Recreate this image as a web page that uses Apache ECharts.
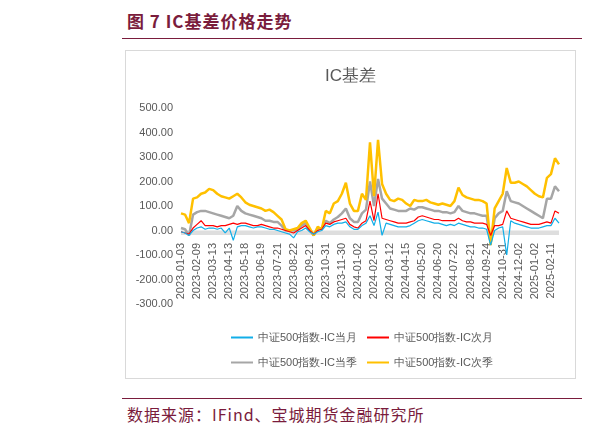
<!DOCTYPE html>
<html>
<head>
<meta charset="utf-8">
<script src="https://cdn.jsdelivr.net/npm/echarts@6/dist/echarts.min.js"></script>
<style>
body{margin:0;background:#fff;font-family:"Noto Sans CJK SC",sans-serif;}
#head{position:absolute;left:127px;top:8px;font-size:17px;font-weight:bold;color:#7a1c3c;letter-spacing:1px;}
#line1{position:absolute;left:122px;top:38px;width:460px;height:1px;background:#7a1c3c;}
#box{position:absolute;left:125px;top:50px;width:449px;height:327px;border:1px solid #d9d9d9;}
#line2{position:absolute;left:122px;top:398px;width:460px;height:1px;background:#7a1c3c;}
#foot{position:absolute;left:127px;top:402px;font-size:16px;color:#7a1c3c;letter-spacing:1px;}
</style>
</head>
<body>
<div id="head">图 7 IC基差价格走势</div>
<div id="line1"></div>
<div id="box"></div>
<div id="line2"></div>
<div id="foot">数据来源：IFind、宝城期货金融研究所</div>
<script>
// 坐标轴日期标签（每4个点一个）
var dateLabels = ['2023-01-03','2023-02-09','2023-03-13','2023-04-13','2023-05-18','2023-06-19',
	'2023-07-21','2023-08-22','2023-09-21','2023-10-31','2023-11-30','2024-01-02','2024-02-01',
	'2024-03-12','2024-04-15','2024-05-20','2024-06-20','2024-07-22','2024-08-21','2024-09-24',
	'2024-10-31','2024-12-02','2025-01-02','2025-02-11'];

var icMonth = [-5,-10,-20,0, 10,15,5,10, 10,5,10,-10, 10,-40,15,20, 20,15,10,15, 15,10,5,5,
	0,-5,-10,-15, -30,-5,0,10, -5,-15,-5,0, 20,15,25,30, 30,35,15,5, 5,20,30,60,
	20,75,-20,30, 25,20,15,15, 15,20,30,40, 45,40,35,30, 30,25,20,25, 20,30,25,20,
	15,15,10,10, 5,-60,0,10, 15,-100,40,30, 25,20,15,10, 10,10,15,20, 20,50,30];
var icNextMonth = [-5,-10,-15,10, 25,40,20,20, 20,15,20,20, 25,30,25,30, 30,25,20,20, 25,20,15,10,
	10,5,0,-5, -10,0,10,20, 0,-15,0,5, 30,25,35,40, 45,50,25,15, 10,30,40,120,
	40,150,50,45, 40,35,30,30, 30,35,40,55, 60,55,50,45, 45,40,40,40, 40,50,40,35,
	35,30,30,30, 25,-20,20,20, 25,80,50,45, 40,35,30,25, 25,25,30,35, 30,80,70];
var icQuarter = [10,5,-20,65, 75,80,80,75, 70,65,60,55, 50,60,100,80, 70,65,60,55, 50,40,40,35,
	35,20,0,0, 0,5,20,30, 0,-20,5,10, 40,30,45,55, 70,90,50,35, 35,70,85,200,
	100,210,130,110, 90,85,80,80, 80,90,85,95, 95,90,85,80, 80,75,75,70, 75,100,80,75,
	70,70,65,60, 60,-50,50,70, 80,160,120,115, 110,100,90,80, 70,60,50,130, 130,180,160];
var icNextQuarter = [70,65,30,130, 135,150,155,170, 165,150,140,135, 130,140,150,135, 115,105,100,95, 90,80,85,75,
	60,45,5,0, 5,10,30,40, 10,-20,15,5, 80,70,110,120, 150,195,110,80, 80,150,125,360,
	140,370,190,150, 125,120,130,125, 110,100,125,120, 120,125,115,110, 105,110,105,100, 120,175,145,135,
	130,125,125,120, 110,-60,90,120, 150,255,195,195, 200,190,180,165, 150,140,135,215, 230,295,270];

var categories = [];
for (var i = 0; i < icMonth.length; i++) {
	categories.push(i % 4 === 0 && dateLabels[i / 4] ? dateLabels[i / 4] : '');
}

var names = ['中证500指数-IC当月','中证500指数-IC次月','中证500指数-IC当季','中证500指数-IC次季'];

function lineSeries(name, data, color, width) {
	return {name: name, type: 'line', data: data, symbol: 'none',
		itemStyle: {color: color}, lineStyle: {color: color, width: width}};
}

var chart = echarts.init(document.getElementById('box'));
var s0 = lineSeries(names[0], icMonth, '#12aee8', 1.2);
var s1 = lineSeries(names[1], icNextMonth, '#ff0000', 1.2);
var s2 = lineSeries(names[2], icQuarter, '#a6a6a6', 2.5);
var s3 = lineSeries(names[3], icNextQuarter, '#ffc000', 2.5);
s0.markArea = {silent: true, itemStyle: {color: '#dedede'}, data: [[{yAxis: 0}, {yAxis: -18}]]};
s0.z = 3; s1.z = 3;

var legendBase = {itemWidth: 22, itemHeight: 10, itemGap: 10, icon: 'path://M0,4H22V6H0Z',
	textStyle: {color: '#595959', fontSize: 11, fontFamily: 'Liberation Sans'}};

chart.setOption({
	animation: false,
	textStyle: {fontFamily: 'Liberation Sans'},
	title: {text: 'IC基差', left: 'center', top: 12,
		textStyle: {color: '#595959', fontSize: 17, fontWeight: 'normal'}},
	legend: [
		Object.assign({left: 100, top: 276, data: [names[0], names[1]]}, legendBase),
		Object.assign({left: 100, top: 301, data: [names[2], names[3]]}, legendBase)
	],
	grid: {left: 55, right: 16, top: 57, bottom: 74},
	xAxis: {type: 'category', boundaryGap: false, data: categories, offset: -64,
		axisLine: {show: false}, axisTick: {show: false},
		axisLabel: {interval: 0, rotate: 90, color: '#595959', fontSize: 11, margin: 3,
			fontFamily: 'Liberation Sans'}},
	yAxis: {type: 'value', min: -300, max: 500, interval: 100, splitLine: {show: false},
		axisLabel: {color: '#595959', fontSize: 11, formatter: function (v) { return v.toFixed(2); }}},
	series: [s2, s3, s1, s0]
});
</script>
</body>
</html>
